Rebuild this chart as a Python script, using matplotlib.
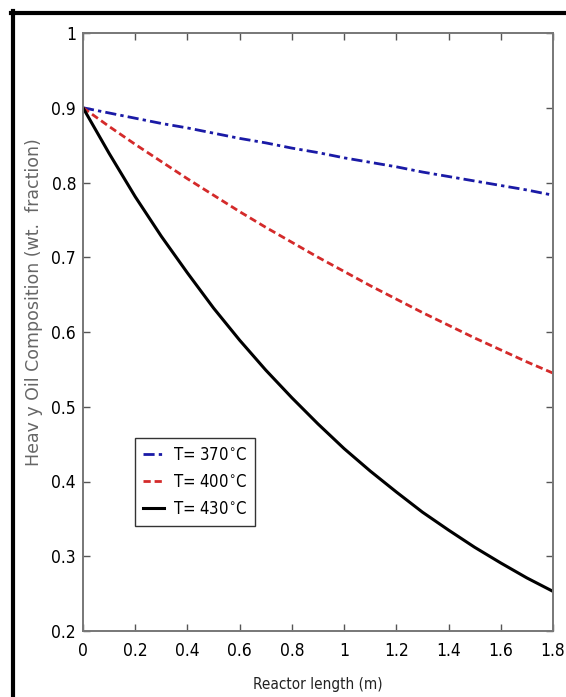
import numpy as np
import matplotlib.pyplot as plt
from matplotlib.lines import Line2D
from matplotlib import font_manager

# Reactor length (m)
length = [0.0, 0.1, 0.2, 0.3, 0.4, 0.5, 0.6, 0.7, 0.8, 0.9,
          1.0, 1.1, 1.2, 1.3, 1.4, 1.5, 1.6, 1.7, 1.8]

# Heavy oil composition (wt. fraction)
t370 = [0.900, 0.893, 0.886, 0.879, 0.873, 0.866, 0.859, 0.853, 0.846, 0.840,
        0.833, 0.827, 0.821, 0.814, 0.808, 0.802, 0.796, 0.790, 0.783]
t400 = [0.900, 0.875, 0.851, 0.828, 0.805, 0.783, 0.761, 0.740, 0.720, 0.700,
        0.681, 0.662, 0.644, 0.626, 0.609, 0.592, 0.576, 0.560, 0.545]
t430 = [0.900, 0.839, 0.781, 0.728, 0.679, 0.632, 0.589, 0.549, 0.512, 0.477,
        0.444, 0.414, 0.386, 0.359, 0.335, 0.312, 0.291, 0.271, 0.253]

labels = ["T= 370$^{\\circ}$C", "T= 400$^{\\circ}$C", "T= 430$^{\\circ}$C"]
xticks = [0, 0.2, 0.4, 0.6, 0.8, 1.0, 1.2, 1.4, 1.6, 1.8]
xticklabels = ["0", "0.2", "0.4", "0.6", "0.8", "1", "1.2", "1.4", "1.6", "1.8"]
yticks = [0.2, 0.3, 0.4, 0.5, 0.6, 0.7, 0.8, 0.9, 1.0]
yticklabels = ["0.2", "0.3", "0.4", "0.5", "0.6", "0.7", "0.8", "0.9", "1"]

# narrow font for ticks / legend, if a condensed face is around
names = {f.name for f in font_manager.fontManager.ttflist}
cond = [f for f in font_manager.fontManager.ttflist
        if f.stretch in ("condensed", "semi-condensed", "extra-condensed")]
if "Liberation Sans Narrow" in names:
    narrow = {"family": "Liberation Sans Narrow"}
elif cond:
    narrow = {"family": cond[0].name, "stretch": cond[0].stretch}
else:
    narrow = {"family": "Liberation Sans"}

fig = plt.figure(figsize=(5.66, 6.97), dpi=100)
W, H = 566, 697
ax = fig.add_axes([83 / W, 1 - 631 / H, 470 / W, 598 / H])

ax.plot(length, t370, color="#1a1aa6", lw=2.0, ls=(0, (4, 1.5, 1.2, 1.5)), label=labels[0])
ax.plot(length, t400, color="#d42a2a", lw=2.0, ls=(0, (2.6, 1.4)), label=labels[1])
ax.plot(length, t430, color="black", lw=2.2, ls="-", label=labels[2])

ax.set_xlim(0, 1.8)
ax.set_ylim(0.2, 1.0)
ax.set_xticks(xticks)
ax.set_xticklabels(xticklabels, fontsize=12.5, **narrow)
ax.set_yticks(yticks)
ax.set_yticklabels(yticklabels, fontsize=12.5, **narrow)
ax.tick_params(direction="in", top=True, right=True, length=5, width=1,
               color="#555555", pad=5)
ax.tick_params(axis="x", pad=8)
for s in ax.spines.values():
    s.set_color("#777777")
    s.set_linewidth(1.4)

ax.set_xlabel("Reactor length (m)", fontsize=11, color="#222222", labelpad=12, **narrow)
ax.set_ylabel("Heav y Oil Composition (wt.  fraction)", family="DejaVu Sans",
              fontsize=12.5, color="#666666")
ax.yaxis.set_label_coords(-0.085, 0.55)

prop = {"size": 12}
prop.update(narrow)
leg = ax.legend(loc="lower left", bbox_to_anchor=(0.111, 0.176), fancybox=False,
                edgecolor="#333333", framealpha=1, borderaxespad=0,
                prop=prop, handlelength=1.3,
                labelspacing=0.55, borderpad=0.45, handletextpad=0.5)
leg.get_frame().set_linewidth(1.0)

# outer black frame (left and top edges visible)
fig.add_artist(Line2D([12.5 / W, 12.5 / W], [0, 1 - 11 / H], color="black", lw=3,
                      transform=fig.transFigure))
fig.add_artist(Line2D([11 / W, 1], [1 - 12.5 / H, 1 - 12.5 / H], color="black", lw=3,
                      transform=fig.transFigure))

fig.savefig("out.png", dpi=100)
